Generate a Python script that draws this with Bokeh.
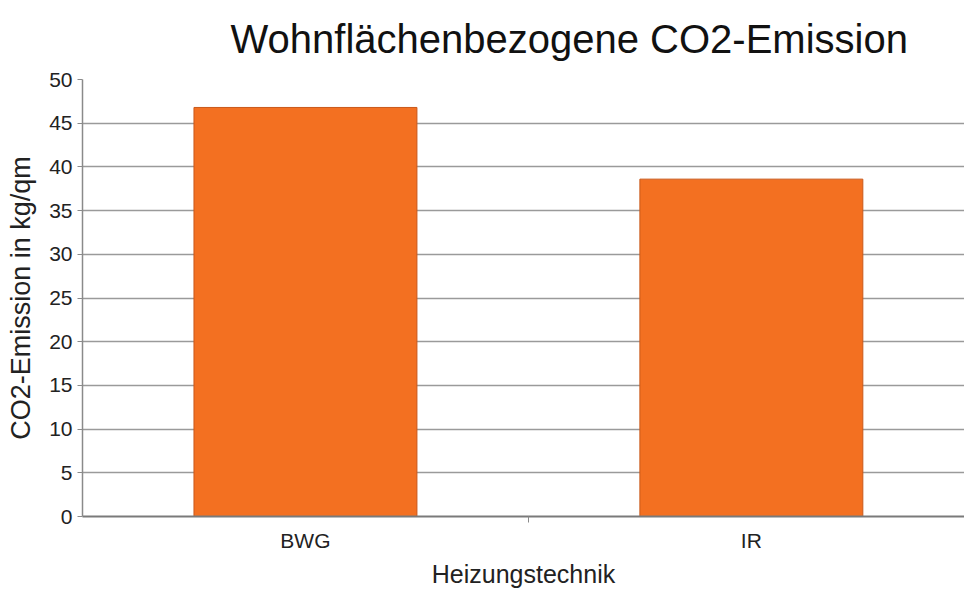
from bokeh.plotting import figure
from bokeh.models import Range1d, FixedTicker, ColumnDataSource
from bokeh.embed import file_html
from bokeh.resources import INLINE

# ---- data ----
categories = ["BWG", "IR"]
values = [46.8, 38.6]
y_ticks = [0, 5, 10, 15, 20, 25, 30, 35, 40, 45, 50]
title_text = "Wohnflächenbezogene CO2-Emission"
x_label = "Heizungstechnik"
y_label = "CO2-Emission in kg/qm"

x_pos = [i + 0.5 for i in range(len(categories))]
boundaries = [i for i in range(1, len(categories))]
src = ColumnDataSource(dict(x=x_pos, top=values, cat=categories))

FONT = "Liberation Sans"

p = figure(width=964, height=590, output_backend="svg", toolbar_location=None,
           x_range=Range1d(0, 1.978), y_range=Range1d(0, 50),
           min_border_left=82, min_border_right=0, min_border_top=79,
           min_border_bottom=0, background_fill_color="white",
           border_fill_color="white")
p.outline_line_color = None

p.vbar(x="x", top="top", width=0.5, source=src,
       fill_color="#F37021", line_color="#C9581A", line_width=1)

# title
p.title.text = title_text
p.title.text_font = FONT
p.title.text_font_size = "40px"
p.title.text_font_style = "normal"
p.title.text_color = "#111111"
p.title.align = "left"
p.title.vertical_align = "top"
p.title.offset = 148
p.title.standoff = 33

# grids
p.xgrid.grid_line_color = None
p.ygrid.grid_line_color = "#9a9a9a"
p.ygrid.grid_line_width = 1.5
p.ygrid.ticker = FixedTicker(ticks=y_ticks)

# y axis
ya = p.yaxis[0]
ya.ticker = FixedTicker(ticks=y_ticks)
ya.axis_line_color = "#8a8a8a"
ya.axis_line_width = 1.5
ya.major_tick_line_color = "#8a8a8a"
ya.major_tick_out = 5
ya.major_tick_in = 0
ya.minor_tick_line_color = None
ya.major_label_text_font = FONT
ya.major_label_text_font_size = "21px"
ya.major_label_text_color = "#222222"
ya.major_label_standoff = 5
ya.axis_label = y_label
ya.axis_label_text_font = FONT
ya.axis_label_text_font_size = "27px"
ya.axis_label_text_font_style = "normal"
ya.axis_label_text_color = "#222222"
ya.axis_label_standoff = 10

# x axis
xa = p.xaxis[0]
xa.ticker = FixedTicker(ticks=x_pos, minor_ticks=boundaries)
xa.major_label_overrides = {x: c for x, c in zip(x_pos, categories)}
xa.axis_line_color = "#7a7a7a"
xa.axis_line_width = 2
xa.major_tick_line_color = None
xa.major_tick_out = 0
xa.major_tick_in = 0
xa.minor_tick_line_color = "#8a8a8a"
xa.minor_tick_out = 6
xa.minor_tick_in = 0
xa.major_label_text_font = FONT
xa.major_label_text_font_size = "21px"
xa.major_label_text_color = "#222222"
xa.major_label_standoff = 6
xa.axis_label = x_label
xa.axis_label_text_font = FONT
xa.axis_label_text_font_size = "25px"
xa.axis_label_text_font_style = "normal"
xa.axis_label_text_color = "#222222"
xa.axis_label_standoff = 5

open("out.html", "w").write(file_html(p, INLINE))
